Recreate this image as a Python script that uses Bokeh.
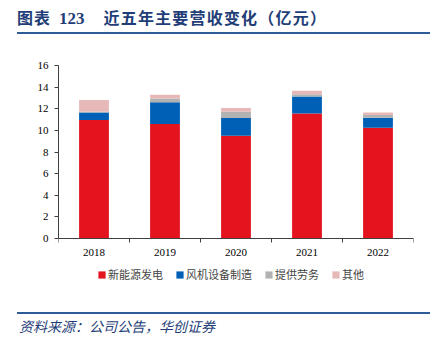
from bokeh.plotting import figure
from bokeh.models import ColumnDataSource, FixedTicker, Legend, LegendItem, Range1d, Div
from bokeh.layouts import column
from bokeh.embed import file_html
from bokeh.resources import INLINE

years = ["2018", "2019", "2020", "2021", "2022"]
new_energy = [10.95, 10.58, 9.50, 11.57, 10.25]
turbine = [0.71, 2.02, 1.64, 1.57, 0.92]
services = [0.06, 0.35, 0.58, 0.21, 0.25]
others = [1.08, 0.35, 0.34, 0.31, 0.24]

series_names = ["新能源发电", "风机设备制造", "提供劳务", "其他"]
colors = ["#E3141E", "#0060B5", "#B2B2B2", "#E6B9B8"]
keys = ["new_energy", "turbine", "services", "others"]

navy = "#1F3E78"
line_blue = "#2E5C99"

title = Div(width=437, height=40, margin=0, text=(
    '<div style="position:relative;width:437px;height:40px;">'
    '<div style="position:absolute;left:17px;top:6px;color:%s;font-weight:bold;font-size:16px;white-space:nowrap;">'
    '<span style="font-family:\'Noto Sans CJK SC\';letter-spacing:1px;">图表</span>'
    '<span style="font-family:\'Liberation Serif\';margin-left:8px;font-size:17px;">123</span>'
    '<span style="font-family:\'Noto Sans CJK SC\';margin-left:19px;letter-spacing:1.2px;">近五年主要营收变化（亿元）</span>'
    '</div>'
    '<div style="position:absolute;left:17px;top:32px;width:413px;height:2px;background:%s;"></div>'
    '</div>') % (navy, line_blue))

p = figure(width=437, height=260, output_backend="svg", toolbar_location=None,
           x_range=Range1d(0, 5), y_range=Range1d(-5.73, 16),
           min_border_left=58, min_border_right=24, min_border_top=25, min_border_bottom=0)
p.outline_line_color = None
p.grid.grid_line_color = None
p.background_fill_color = None
p.border_fill_color = None

xs = [i + 0.5 for i in range(len(years))]
src = ColumnDataSource(dict(x=xs, new_energy=new_energy, turbine=turbine, services=services, others=others))
renderers = p.vbar_stack(keys, x="x", width=0.42, source=src, color=colors, line_color=None)

p.xaxis.fixed_location = 0
p.xaxis.ticker = FixedTicker(ticks=xs, minor_ticks=list(range(0, 6)))
p.xaxis.major_label_overrides = {x: y for x, y in zip(xs, years)}
p.xaxis.major_tick_out = 0
p.xaxis.major_tick_in = 0
p.xaxis.minor_tick_out = 4
p.xaxis.minor_tick_in = 0
p.yaxis.bounds = (0, 16)
p.yaxis.ticker = FixedTicker(ticks=list(range(0, 17, 2)))
p.yaxis.major_tick_out = 4
p.yaxis.major_tick_in = 0
p.yaxis.minor_tick_out = 0
p.yaxis.minor_tick_in = 0
for ax in (p.xaxis, p.yaxis):
    ax.axis_line_color = "#404040"
    ax.major_tick_line_color = "#404040"
    ax.minor_tick_line_color = "#404040"
    ax.major_label_text_font = "Liberation Serif"
    ax.major_label_text_font_size = "11px"
    ax.major_label_text_color = "#000000"
p.xaxis.major_label_standoff = 6
p.yaxis.major_label_standoff = 6

legend = Legend(items=[LegendItem(label=n, renderers=[r]) for n, r in zip(series_names, renderers)],
                orientation="horizontal", location=(39, 18), label_text_font="Noto Sans CJK SC",
                label_text_font_size="11px", glyph_width=9, glyph_height=9, spacing=12,
                label_standoff=2, border_line_color=None, background_fill_alpha=0, padding=0, margin=0,
                label_height=9)
p.add_layout(legend, "center")

source = Div(width=437, height=50, margin=0, text=(
    '<div style="position:relative;width:437px;height:50px;">'
    '<div style="position:absolute;left:17px;top:12px;width:413px;height:2px;background:%s;"></div>'
    '<div style="position:absolute;left:19px;top:16px;color:%s;font-style:italic;font-size:14px;'
    'font-family:\'Noto Sans CJK SC\';white-space:nowrap;">资料来源：公司公告，华创证券</div>'
    '</div>') % (line_blue, navy))

layout = column(title, p, source, spacing=0)
open("out.html", "w").write(file_html(layout, INLINE))
